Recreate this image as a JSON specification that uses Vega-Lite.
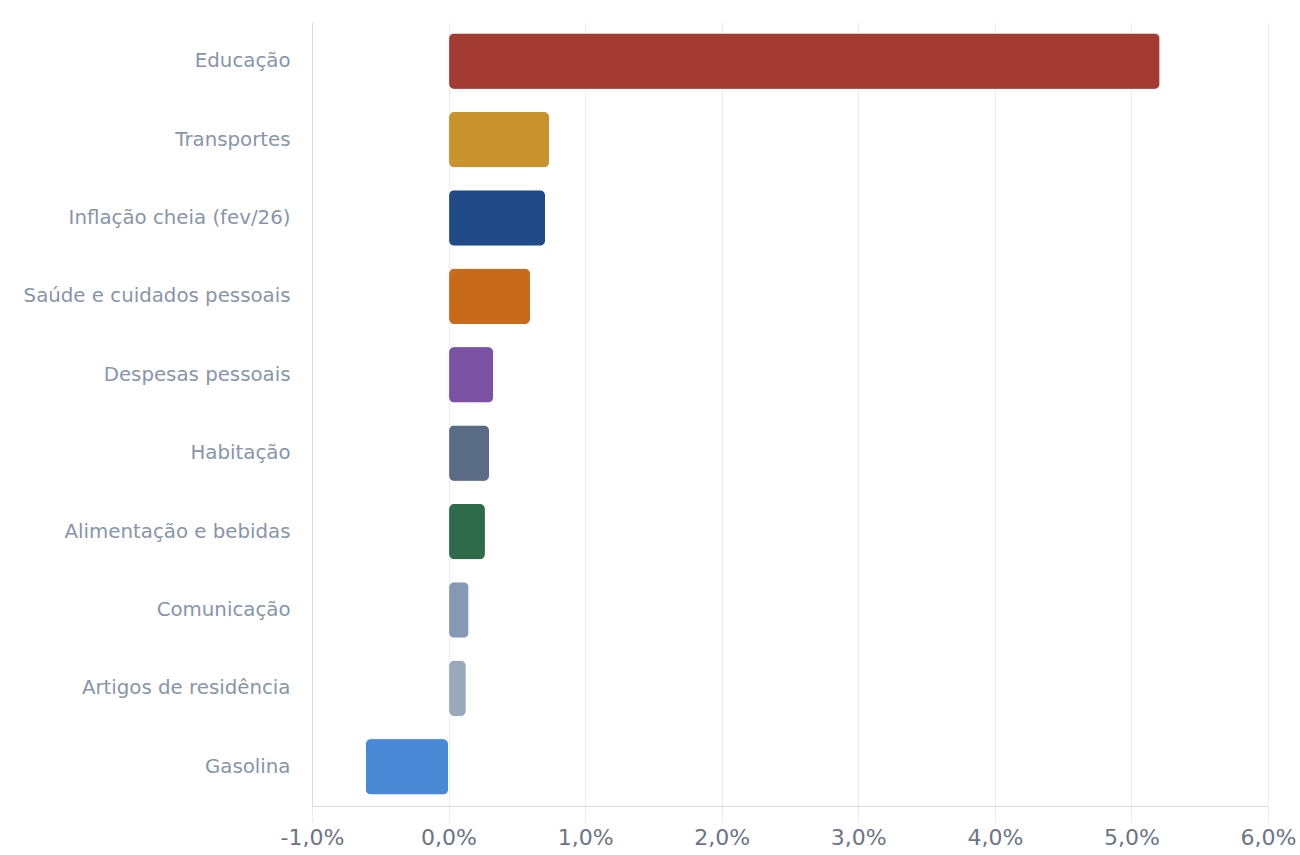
{
  "$schema": "https://vega.github.io/schema/vega-lite/v6.json",
  "width": 956,
  "height": 784,
  "autosize": {"type": "none"},
  "padding": {"left": 312, "top": 22, "right": 32, "bottom": 49},
  "background": "white",
  "data": {
    "values": [
      {"categoria": "Educação", "valor": 5.21, "cor": "#a33b32"},
      {"categoria": "Transportes", "valor": 0.74, "cor": "#c9922c"},
      {"categoria": "Inflação cheia (fev/26)", "valor": 0.71, "cor": "#1f4a87"},
      {"categoria": "Saúde e cuidados pessoais", "valor": 0.60, "cor": "#c96a1b"},
      {"categoria": "Despesas pessoais", "valor": 0.33, "cor": "#7b52a3"},
      {"categoria": "Habitação", "valor": 0.30, "cor": "#5a6b85"},
      {"categoria": "Alimentação e bebidas", "valor": 0.27, "cor": "#2e6b4a"},
      {"categoria": "Comunicação", "valor": 0.15, "cor": "#8698b3"},
      {"categoria": "Artigos de residência", "valor": 0.13, "cor": "#9aa8ba"},
      {"categoria": "Gasolina", "valor": -0.61, "cor": "#4a89d6"}
    ]
  },
  "mark": {"type": "bar", "cornerRadius": 6, "stroke": "white", "strokeWidth": 1},
  "encoding": {
    "y": {
      "field": "categoria",
      "type": "nominal",
      "sort": null,
      "scale": {"paddingInner": 0.28, "paddingOuter": 0.14},
      "axis": {
        "title": null,
        "ticks": false,
        "domain": true,
        "domainColor": "#dcdcdc",
        "labelFont": "DejaVu Sans",
        "labelFontSize": 19.8,
        "labelColor": "#8795aa",
        "labelPadding": 22,
        "labelLimit": 400
      }
    },
    "x": {
      "field": "valor",
      "type": "quantitative",
      "scale": {"domain": [-1, 6], "nice": false, "zero": false},
      "axis": {
        "title": null,
        "values": [-1, 0, 1, 2, 3, 4, 5, 6],
        "labelExpr": "replace(replace(format(datum.value, '.1f'), '.', ','), '\u2212', '-') + '%'",
        "labelFlush": false,
        "labelOverlap": false,
        "grid": true,
        "gridColor": "#ececec",
        "domainColor": "#dcdcdc",
        "tickColor": "#ececec",
        "tickSize": 16,
        "labelFont": "DejaVu Sans",
        "labelFontSize": 22,
        "labelColor": "#6b7585",
        "labelPadding": 5
      }
    },
    "color": {"field": "cor", "type": "nominal", "scale": null, "legend": null}
  },
  "config": {"view": {"stroke": null}}
}
